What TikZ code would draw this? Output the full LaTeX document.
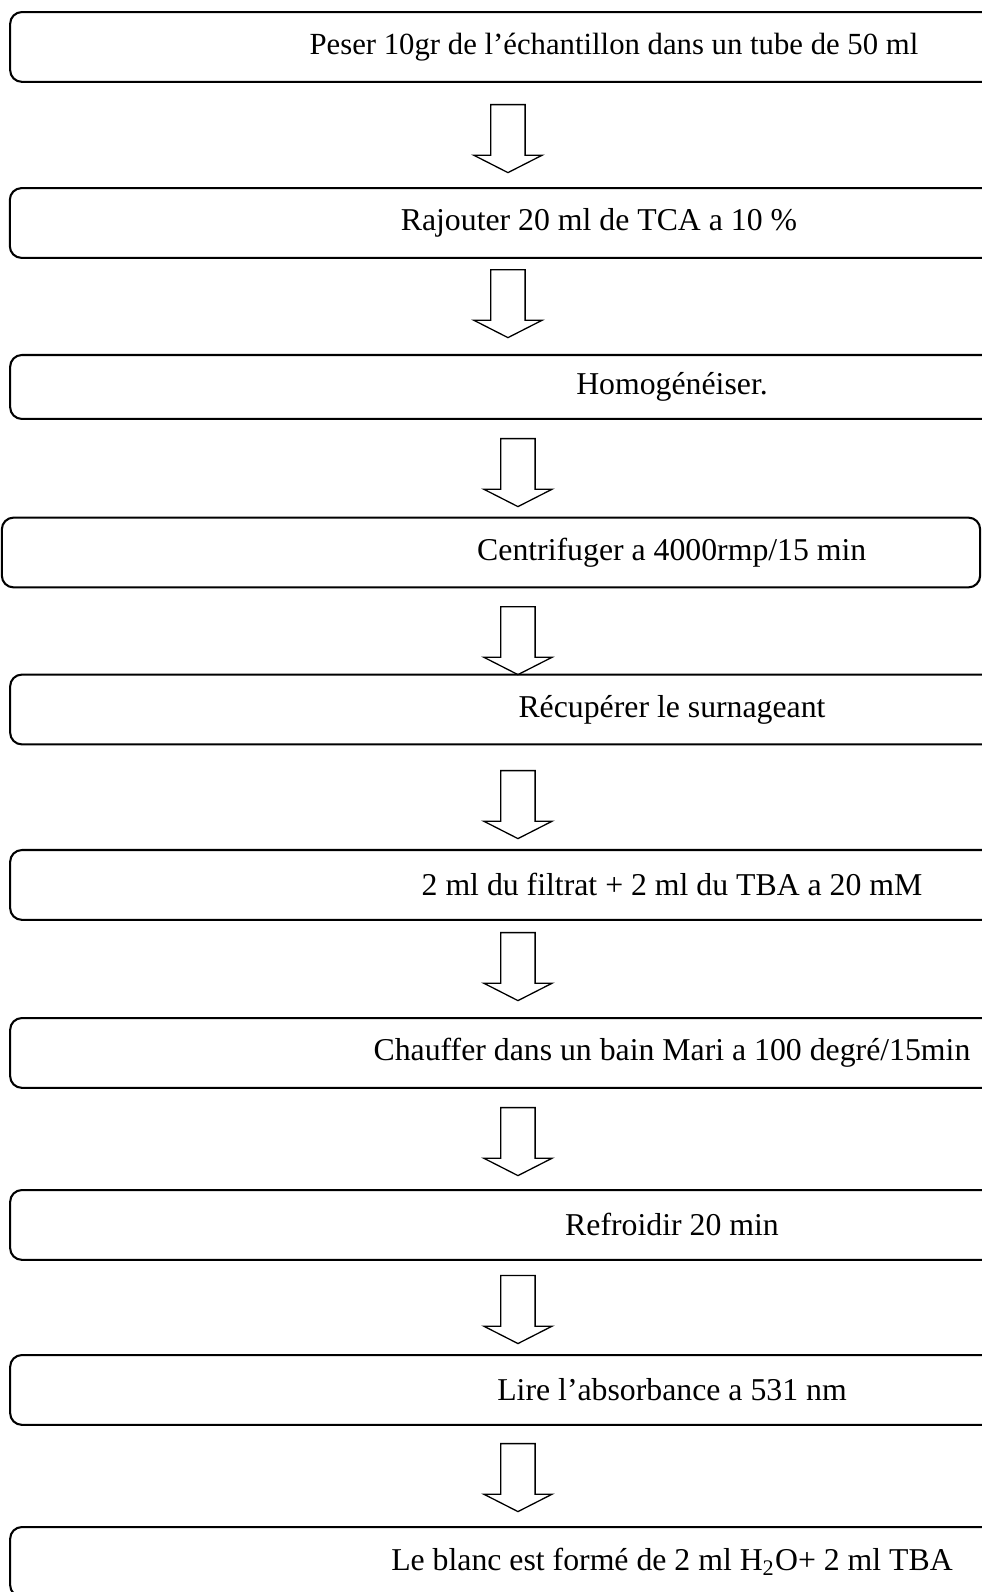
\documentclass[tikz,border=0pt]{standalone}
\usepackage{fontspec}
\setmainfont{Liberation Serif}
\usepackage{tikz}
\usetikzlibrary{shapes.arrows,positioning}

\tikzset{
    stepbox/.style={rectangle,rounded corners=0.16cm,draw=black,line width=0.8pt,minimum height=0.95cm,inner sep=0pt,font=\fontsize{12.3}{14}\selectfont},
    downarrow/.style={single arrow,draw=black,line width=0.5pt,rotate=-90,anchor=tail,minimum height=0.925cm,minimum width=0.912cm,single arrow head extend=0.231cm,single arrow tip angle=126,single arrow head indent=0pt,inner xsep=0pt,inner ysep=0.2245cm}
}

\begin{document}
\begin{tikzpicture}
  \useasboundingbox (0,0) rectangle (13.36,-21.66);
  \clip (0,0) rectangle (13.36,-21.66);

  % Protocol steps
  \node[stepbox,minimum width=16.43cm,font=\fontsize{11.9}{14}\selectfont] (peser) at (8.353,-0.639) {Peser 10gr de l’échantillon dans un tube de 50 ml};
  \node[stepbox,minimum width=16.03cm] (rajouter) at (8.149,-3.034) {Rajouter 20 ml de TCA a 10 \%};
  \node[stepbox,minimum width=18.01cm,minimum height=0.87cm] (homog) at (9.143,-5.265) {Homogénéiser.};
  \node[stepbox,minimum width=13.31cm] (centri) at (6.680,-7.517) {\hspace*{4.92cm}Centrifuger a 4000rmp/15 min};
  \node[stepbox,minimum width=18.01cm] (recup) at (9.143,-9.653) {Récupérer le surnageant};
  \node[stepbox,minimum width=18.01cm] (filtrat) at (9.143,-12.040) {2 ml du filtrat + 2 ml du TBA a 20 mM};
  \node[stepbox,minimum width=18.01cm] (chauffer) at (9.143,-14.326) {Chauffer dans un bain Mari a 100 degré/15min};
  \node[stepbox,minimum width=18.01cm] (refroid) at (9.143,-16.666) {Refroidir 20 min};
  \node[stepbox,minimum width=18.01cm] (lire) at (9.143,-18.911) {Lire l’absorbance a 531 nm};
  \node[stepbox,minimum width=18.01cm] (blanc) at (9.143,-21.251) {Le blanc est formé de 2 ml H\textsubscript{2}O+ 2 ml TBA};

  % Block arrows between steps
  \node[downarrow] (arr1) at (6.911,-1.415) {};
  \node[downarrow] (arr2) at (6.911,-3.660) {};
  \node[downarrow] (arr3) at (7.047,-5.959) {};
  \node[downarrow] (arr4) at (7.047,-8.245) {};
  \node[downarrow] (arr5) at (7.047,-10.476) {};
  \node[downarrow] (arr6) at (7.047,-12.680) {};
  \node[downarrow] (arr7) at (7.047,-15.061) {};
  \node[downarrow] (arr8) at (7.047,-17.346) {};
  \node[downarrow] (arr9) at (7.047,-19.632) {};
\end{tikzpicture}
\end{document}
